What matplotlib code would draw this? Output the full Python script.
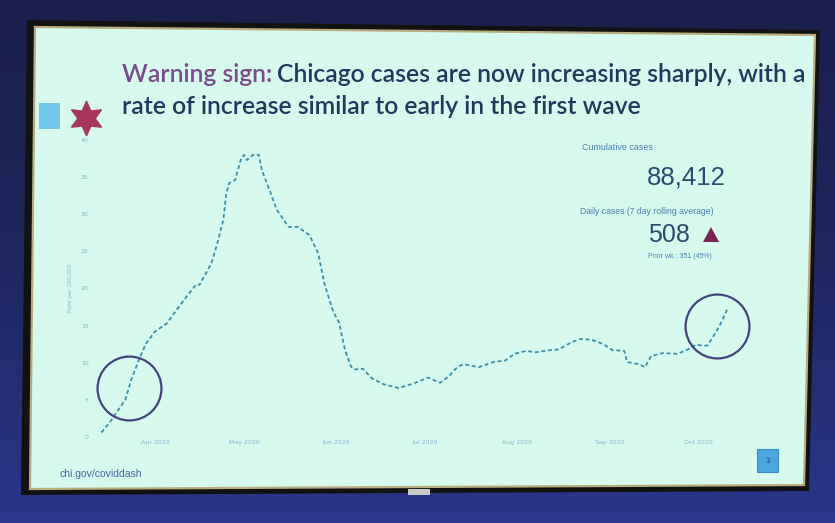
"""
Chicago slide photo: 7-day rate per 100,000, warning sign slide
"""
import numpy as np
import matplotlib
matplotlib.use('Agg')
from matplotlib import pyplot as plt
from matplotlib import dates as mdates
from matplotlib.patches import Polygon, Rectangle

# data
dates = ['2020-03-14', '2020-03-17', '2020-03-22', '2020-03-24', '2020-03-27', '2020-03-29',
         '2020-04-01', '2020-04-05', '2020-04-09', '2020-04-12', '2020-04-15', '2020-04-16',
         '2020-04-20', '2020-04-22', '2020-04-24', '2020-04-25', '2020-04-26', '2020-04-28',
         '2020-04-30', '2020-05-01', '2020-05-02', '2020-05-04', '2020-05-06', '2020-05-07',
         '2020-05-10', '2020-05-12', '2020-05-16', '2020-05-19', '2020-05-23', '2020-05-26',
         '2020-05-28', '2020-05-31', '2020-06-02', '2020-06-04', '2020-06-06', '2020-06-07',
         '2020-06-10', '2020-06-13', '2020-06-17', '2020-06-22', '2020-06-27', '2020-07-02',
         '2020-07-06', '2020-07-09', '2020-07-12', '2020-07-14', '2020-07-19', '2020-07-24',
         '2020-07-28', '2020-07-31', '2020-08-04', '2020-08-07', '2020-08-12', '2020-08-15',
         '2020-08-19', '2020-08-22', '2020-08-26', '2020-08-30', '2020-09-02', '2020-09-06',
         '2020-09-07', '2020-09-11', '2020-09-13', '2020-09-15', '2020-09-19', '2020-09-24',
         '2020-09-28', '2020-09-30', '2020-10-04', '2020-10-07', '2020-10-09', '2020-10-11']
rate = [0.6, 2.1, 5.0, 7.7, 10.8, 12.6,
        14.2, 15.3, 17.5, 19.1, 20.6, 20.5,
        23.4, 26.1, 29.2, 32.8, 34.2, 34.6,
        37.5, 38.0, 37.3, 38.0, 38.0, 35.9,
        32.8, 30.6, 28.3, 28.3, 27.2, 24.7,
        20.7, 16.9, 15.4, 11.7, 9.5, 9.1,
        9.2, 7.9, 7.1, 6.6, 7.2, 8.0,
        7.3, 8.2, 9.5, 9.8, 9.4, 10.1,
        10.3, 11.2, 11.6, 11.4, 11.7, 11.8,
        12.7, 13.2, 13.1, 12.5, 11.7, 11.6,
        10.1, 9.8, 9.4, 10.9, 11.3, 11.2,
        11.9, 12.4, 12.3, 14.2, 15.7, 17.5]
circle_dates = ['2020-03-23T06:00', '2020-10-07T08:00']
circle_rate = [6.6, 14.9]
y_ticks = [0, 5, 10, 15, 20, 25, 30, 35, 40]

title_1 = 'Warning sign:'
title_2 = 'Chicago cases are now increasing sharply, with a'
title_3 = 'rate of increase similar to early in the first wave'
cumulative = '88,412'
daily = '508'
prior = 'Prior wk.: 351 (45%)'

dates = np.array(dates, dtype='datetime64[D]')
circle_dates = np.array(circle_dates, dtype='datetime64[m]')

W, H = 835, 523
fig = plt.figure(figsize=(W / 100, H / 100), dpi=100)

# background: room, tv bezel, screen (pixel coordinates)
bg = fig.add_axes([0, 0, 1, 1])
bg.set_xlim(0, W)
bg.set_ylim(H, 0)
bg.axis('off')
grad = np.linspace(0, 1, 100).reshape(-1, 1)
bg.imshow(grad, extent=(0, W, H, 0), aspect='auto', zorder=0,
          cmap=matplotlib.colors.LinearSegmentedColormap.from_list(
              'room', ['#1a1f4c', '#1f2760', '#2a378a']))
bg.add_patch(Polygon([(27, 20), (820, 30), (809, 491), (21, 495)], closed=True,
                     facecolor='#121212', edgecolor='none', zorder=1))
bg.add_patch(Polygon([(35, 27), (815, 35), (804, 485), (30, 489)], closed=True,
                     facecolor='#d6faee', edgecolor='#b9ad80', lw=1.6, zorder=2))
bg.add_patch(Rectangle((408, 489), 22, 6, facecolor='#c9c9c9', edgecolor='none', zorder=2))

# slide decorations
bg.add_patch(Rectangle((39, 103), 21, 26, facecolor='#72c6ea', edgecolor='none', zorder=3))
bg.plot([86], [118], marker=(6, 1, 0), markersize=25, color='#a8365c', zorder=3)
bg.add_patch(Rectangle((757, 449), 21, 23, facecolor='#4aa6dc', edgecolor='#3a8ec6',
                       lw=0.8, zorder=3))
bg.text(767.5, 461, '3', fontsize=5, color='#1d3a66', ha='center', va='center', zorder=4)
bg.text(60, 474, 'chi.gov/coviddash', fontsize=7.5, color='#3d68a0',
        family='Liberation Sans', va='center', zorder=4)

# title, sized so the first line runs to the right edge as on the slide
tsize = 14
t1 = bg.text(122, 82, title_1, fontsize=tsize, color='#7b4c8c', family='Lato',
             weight='semibold', va='baseline', zorder=4)
t2 = bg.text(300, 82, title_2, fontsize=tsize, color='#1f3a5f', family='Lato',
             weight='semibold', va='baseline', zorder=4)
t3 = bg.text(122, 114, title_3, fontsize=tsize, color='#1f3a5f', family='Lato',
             weight='semibold', va='baseline', zorder=4)
fig.canvas.draw()
to_px = bg.transData.inverted()
w1 = t1.get_window_extent().width
w2 = t2.get_window_extent().width
scale = (811 - 122) / (w1 + w2 + 5)
for t in (t1, t2, t3):
    t.set_fontsize(tsize * scale)
fig.canvas.draw()
x_end = to_px.transform((t1.get_window_extent().x1, 0))[0]
t2.set_x(x_end + 5)

# right hand summary panel
bg.text(582, 147, 'Cumulative cases', fontsize=6.4, color='#4d7fb3',
        family='Liberation Sans', va='center', zorder=4)
bg.text(726, 185, cumulative, fontsize=18.5, color='#2b4a6f',
        family='Liberation Sans', ha='right', va='baseline', zorder=4)
bg.text(580, 211, 'Daily cases (7 day rolling average)', fontsize=6.2, color='#4d7fb3',
        family='Liberation Sans', va='center', zorder=4)
bg.text(690, 242.5, daily, fontsize=18, color='#2b4a6f',
        family='Liberation Sans', ha='right', va='baseline', zorder=4)
bg.add_patch(Polygon([(703, 242), (719, 242), (711, 227)], closed=True,
                     facecolor='#7b2450', edgecolor='none', zorder=4))
bg.text(680, 257, prior, fontsize=5, color='#4d7fb3',
        family='Liberation Sans', ha='center', va='center', zorder=4)

# the chart itself
ax = fig.add_axes([90 / W, (H - 437) / H, (735 - 90) / W, (437 - 140) / H])
ax.patch.set_alpha(0)
ax.plot(dates, rate, color='#3a8fae', lw=1.3, linestyle=(0, (2.2, 1.5)))
ax.plot(circle_dates, circle_rate, linestyle='none', marker='o', markersize=46,
        markerfacecolor='none', markeredgecolor='#43437f', markeredgewidth=1.6,
        clip_on=False)
ax.set_xlim(np.datetime64('2020-03-10T03:00'), np.datetime64('2020-10-13T07:00'))
ax.set_ylim(0, 40)
ax.set_yticks(y_ticks)
ax.xaxis.set_major_locator(mdates.MonthLocator(bymonth=range(4, 11)))
ax.xaxis.set_major_formatter(mdates.DateFormatter('%b %Y'))
ax.tick_params(length=0, labelsize=4.5, labelcolor='#86b4d0', pad=2)
ax.tick_params(axis='y', pad=1)
ax.set_ylabel('Rate per 100,000', fontsize=4, color='#86b4d0')
ax.yaxis.set_label_coords(-17 / 645, 0.5)
for s in ax.spines.values():
    s.set_visible(False)

plt.savefig('out.png', dpi=100)
